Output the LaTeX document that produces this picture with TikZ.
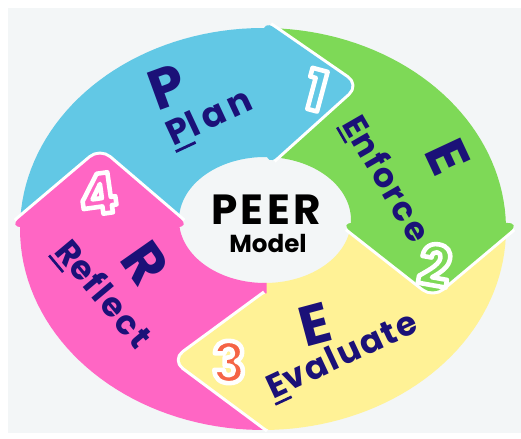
\documentclass[tikz,border=0pt]{standalone}
\usepackage{fontspec}
\setmainfont{Poppins}

\definecolor{bgcol}{RGB}{243,246,247}
\definecolor{plancol}{RGB}{98,200,229}
\definecolor{enforcecol}{RGB}{126,217,87}
\definecolor{evalcol}{RGB}{255,242,150}
\definecolor{reflectcol}{RGB}{255,102,196}
\definecolor{ink}{RGB}{27,17,120}
\definecolor{threecol}{RGB}{245,100,70}

\tikzstyle{bigletter}=[text=ink, inner sep=0pt, font=\fontsize{32}{32}\selectfont\bfseries]
\tikzstyle{word}=[text=ink, inner sep=0pt, font=\fontsize{19}{19}\selectfont\bfseries\addfontfeature{LetterSpace=6}]
\tikzstyle{wideword}=[text=ink, inner sep=0pt, font=\fontsize{20}{20}\selectfont\bfseries\addfontfeature{LetterSpace=14}]
\tikzstyle{digit}=[inner sep=0pt, font=\fontsize{32}{32}\selectfont\bfseries]
\tikzstyle{halo}=[draw=white, line width=3.5pt, rounded corners=7pt, line join=round, shorten <=5pt, shorten >=5pt]
\tikzstyle{head}=[rounded corners=7pt]

% digit with a white rim (text drawn filled and stroked)
\newcommand{\rimtext}[2]{%
  \textcolor{#1}{\special{pdf:literal direct 1 1 1 RG 2.6 w 1 j 2 Tr}#2\special{pdf:literal direct 0 Tr}}}
% underlined first letter
\newcommand{\firstletter}[1]{\setbox0=\hbox{#1}\rlap{\rule[-0.2em]{\wd0}{0.08em}}\box0}

\begin{document}
\begin{tikzpicture}[x=0.02cm, y=0.02cm]
  \useasboundingbox (0,0) rectangle (521,439);
  \fill[white] (0,0) rectangle (521,439);
  \fill[bgcol] (8,6) rectangle (521,431);

  % ring pieces: outer edge, then inner edge back
  \fill[plancol] plot[domain=179:88, samples=40] ({263+243*cos(\x)}, {210+201*sin(\x)})
    -- plot[domain=87:186, samples=40] ({265+86*cos(\x)}, {219+63*sin(\x)}) -- cycle;
  \fill[enforcecol] plot[domain=88:-1, samples=40] ({263+243*cos(\x)}, {210+201*sin(\x)})
    -- plot[domain=-5:88, samples=40] ({265+86*cos(\x)}, {219+63*sin(\x)}) -- cycle;
  \fill[evalcol] plot[domain=0:-90, samples=40] ({263+243*cos(\x)}, {210+201*sin(\x)})
    -- plot[domain=-92:-4, samples=40] ({265+86*cos(\x)}, {219+63*sin(\x)}) -- cycle;
  \fill[reflectcol] plot[domain=-89:-182, samples=40] ({263+243*cos(\x)}, {210+201*sin(\x)})
    -- plot[domain=-176:-89, samples=40] ({265+86*cos(\x)}, {219+63*sin(\x)}) -- cycle;

  % arrow heads
  \foreach \c/\ax/\ay/\tx/\ty/\bx/\by in {plancol/263/419/357/354/267/273,
      enforcecol/520/216/433/143/340/216,
      evalcol/275/4/174/79/272/151,
      reflectcol/9/212/100/289/190/212} {
    \draw[halo] (\ax,\ay) -- (\tx,\ty) -- (\bx,\by);
    \fill[\c, head] (\ax,\ay) -- (\tx,\ty) -- (\bx,\by) -- cycle;
  }

  % labels
  \node[bigletter, rotate=20] (bigp) at (167,352) {P};
  \node[wideword, rotate=25] (plan) at (210,320) {\firstletter{P}lan};

  \node[bigletter, rotate=-65] (bige) at (448,282) {E};
  \node[word, rotate=-60] (enforce) at (385,259) {\firstletter{E}nforce};

  \node[bigletter, rotate=15] (bigev) at (315,114) {E};
  \node[word, rotate=25] (evaluate) at (343,82) {\firstletter{E}valuate};

  \node[bigletter, rotate=-55] (bigr) at (145,176) {R};
  \node[word, rotate=-50] (reflect) at (102,144) {\firstletter{R}eflect};

  \node[inner sep=0pt, font=\fontsize{24}{24}\selectfont\bfseries\addfontfeature{LetterSpace=8}] (peer) at (266,229) {PEER};
  \node[inner sep=0pt, font=\fontsize{14}{14}\selectfont\bfseries] (model) at (268,195) {Model};

  % step numbers
  \node[digit, rotate=-15] (one) at (316,349) {\rimtext{plancol}{1}};
  \node[digit, rotate=-10] (two) at (435,174) {\rimtext{enforcecol}{2}};
  \node[digit] (three) at (229,77) {\rimtext{threecol}{3}};
  \node[digit, rotate=8] (four) at (98,245) {\rimtext{reflectcol}{4}};
\end{tikzpicture}
\end{document}
